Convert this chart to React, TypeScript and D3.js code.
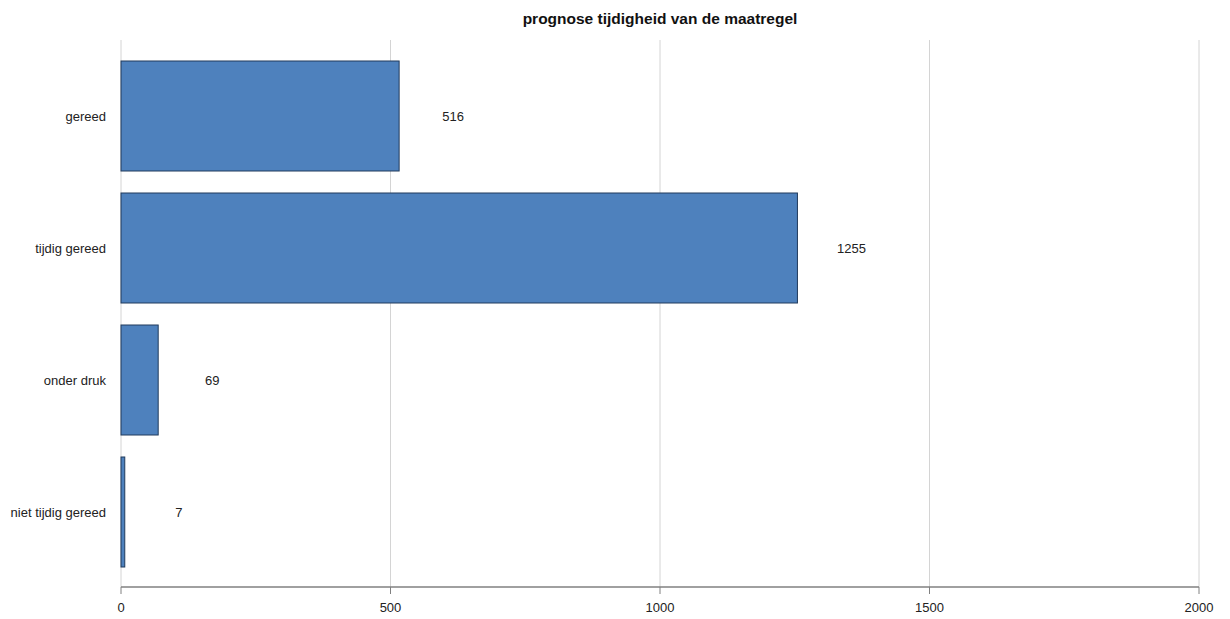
import React from "react";
import * as d3 from "d3";

const categories = ["gereed", "tijdig gereed", "onder druk", "niet tijdig gereed"];
const values = [516, 1255, 69, 7];
const xTicks = [0, 500, 1000, 1500, 2000];
const title = "prognose tijdigheid van de maatregel";

export default function App() {
  const W = 1230, H = 619;
  const left = 121, right = 1199, top = 40, axisY = 587;
  const x = d3.scaleLinear().domain([0, 2000]).range([left, right]);
  const y = d3.scaleBand<string>().domain(categories).range([50, 578]).paddingInner(1 / 6).paddingOuter(1 / 12);
  const font = "Liberation Sans, Arial, sans-serif";
  return (
    <svg width={W} height={H} style={{ position: "absolute", left: 0, top: 0 }} fontFamily={font}>
      <rect width={W} height={H} fill="#fff" />
      <text x={(left + right) / 2} y={24} textAnchor="middle" fontWeight="bold" fontSize={15.5} fill="#111">{title}</text>
      {xTicks.map((t) => (
        <line key={"g" + t} x1={x(t)} x2={x(t)} y1={top} y2={axisY} stroke="#d4d4d4" strokeWidth={1} />
      ))}
      {categories.map((c, i) => (
        <g key={c}>
          <rect x={x(0)} y={y(c)!} width={x(values[i]) - x(0)} height={y.bandwidth()} fill="#4e81bd" stroke="#213b5c" strokeWidth={1} />
          <text x={x(values[i]) + 54} y={y(c)! + y.bandwidth() / 2} dy="0.35em" textAnchor="middle" fontSize={13} fill="#222">{values[i]}</text>
          <text x={106} y={y(c)! + y.bandwidth() / 2} dy="0.35em" textAnchor="end" fontSize={13} fill="#222">{c}</text>
        </g>
      ))}
      <line x1={left} x2={right} y1={axisY} y2={axisY} stroke="#808080" strokeWidth={1.5} />
      {xTicks.map((t) => (
        <g key={"t" + t}>
          <line x1={x(t)} x2={x(t)} y1={axisY} y2={axisY + 7} stroke="#808080" strokeWidth={1} />
          <text x={x(t)} y={612} textAnchor="middle" fontSize={13} fill="#222">{t}</text>
        </g>
      ))}
    </svg>
  );
}
